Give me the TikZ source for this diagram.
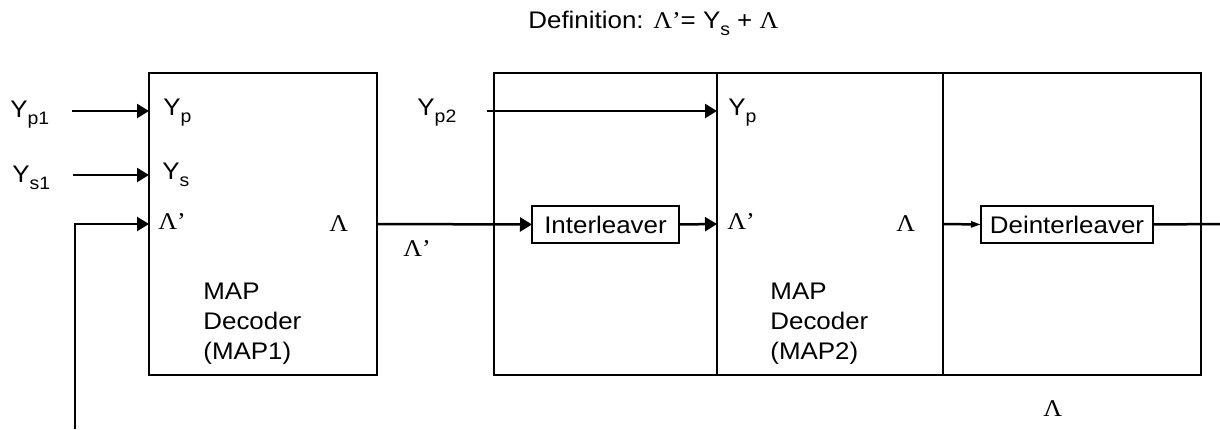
\documentclass[tikz,border=0pt]{standalone}
\usepackage{fontspec}
\setmainfont{Liberation Sans}[FakeStretch=1.08]
\newfontfamily\grk{Liberation Serif}[FakeStretch=1.08]
\usetikzlibrary{arrows.meta}

\newcommand\Lm{{\grk Λ}}
\newcommand\Lmp{{\grk Λ’}}
\newcommand\sub[1]{\raisebox{-3.5pt}{\fontsize{9}{10}\selectfont #1}}

\begin{document}
\begin{tikzpicture}[
    x=0.5pt,y=-0.5pt,
    >={Triangle[length=6pt,width=7pt]},
    every node/.style={font=\fontsize{12}{15}\selectfont,inner sep=0pt},
    blk/.style={draw,line width=1.25pt,outer sep=0pt,anchor=north west,minimum height=151pt},
    perm/.style={draw,line width=1.25pt,outer sep=0pt,minimum height=18.5pt},
    sig/.style={->,line width=1.25pt},
    lbl/.style={anchor=base west},
  ]
  \useasboundingbox (0,0) rectangle (1220,429);

  % -- signal rows and free ends --
  \path (0,111) coordinate (rowp) (0,175) coordinate (rows) (0,224) coordinate (rowl);
  \coordinate (fb) at (75,429);
  \coordinate (out) at (1220,224);

  % -- decoder blocks --
  \node[blk,minimum width=114pt] (map1) at (149,73) {};
  \node[blk,minimum width=111.5pt] (ilvsec) at (494,73) {};
  \node[blk,minimum width=113pt] (map2) at (ilvsec.north east) {};
  \node[blk,minimum width=129pt] (dilsec) at (map2.north east) {};

  \node[align=left,anchor=north west] at (203,283) {MAP\\Decoder\\(MAP1)};
  \node[align=left,anchor=north west] at (770,283) {MAP\\Decoder\\(MAP2)};

  \node[perm,minimum width=73.5pt] (intl) at (605.5,224.5) {Interleaver};
  \node[perm,minimum width=86pt] (dintl) at (1067,224.5) {Deinterleaver};

  % -- labels --
  \node[lbl] at (528,28) {Definition: \Lmp= Y\sub{s} + \Lm};
  \node[lbl] (yp1) at (10,117) {Y\sub{p1}};
  \node[lbl] (ys1) at (12,182) {Y\sub{s1}};
  \node[lbl] (yp2) at (417,115) {Y\sub{p2}};
  \node[lbl] at (163,115) {Y\sub{p}};
  \node[lbl] at (162,179) {Y\sub{s}};
  \node[lbl] at (158,229) {\Lmp};
  \node[lbl] at (329,231) {\Lm};
  \node[lbl] at (403,256) {\Lmp};
  \node[lbl] at (728,115) {Y\sub{p}};
  \node[lbl] at (727,229) {\Lmp};
  \node[lbl] at (896,231) {\Lm};
  \node[lbl] at (1043,416) {\Lm};

  % -- connections --
  \draw[sig] ([xshift=11pt]yp1.east |- rowp) -- (map1.west |- rowp);
  \draw[sig] ([xshift=11pt]ys1.east |- rows) -- (map1.west |- rows);
  \draw[sig] (fb) |- (map1.west |- rowl);
  \draw[sig] (map1.east |- rowl) -- (intl.west);
  \draw[sig] (intl.east) -- (map2.west |- rowl);
  \draw[sig] ([xshift=15pt]yp2.east |- rowp) -- (map2.west |- rowp);
  \draw[sig,>={Triangle[length=5pt,width=3pt]}] (map2.east |- rowl) -- (dintl.west);
  \draw[line width=1.25pt] (dintl.east) -- (out);
\end{tikzpicture}
\end{document}
